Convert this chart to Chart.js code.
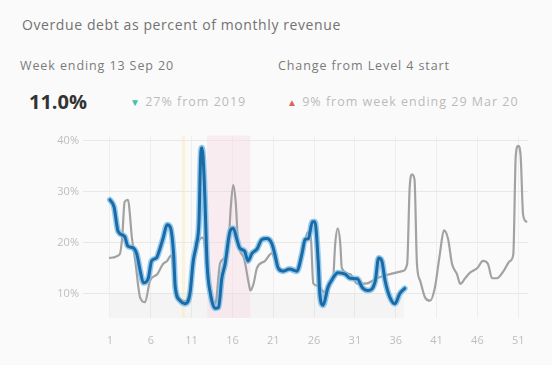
<!DOCTYPE html>
<html>
<head>
<meta charset="utf-8">
<script src="https://cdn.jsdelivr.net/npm/chart.js@4"></script>
<style>
    body { margin: 0; background: #fafafa; font-family: "Open Sans", sans-serif; }
    #page { position: relative; width: 552px; height: 365px; overflow: hidden; }
    .txt { position: absolute; white-space: nowrap; line-height: 1; }
    .sub { font-size: 12.5px; letter-spacing: 0.9px; color: #7a7a7a; }
    .light { font-size: 12.5px; letter-spacing: 1px; color: #bababa; }
    #chart-wrap { position: absolute; left: 0; top: 125px; width: 552px; height: 240px; }
</style>
</head>
<body>
<div id="page">
    <div class="txt" style="left:22px; top:18px; font-size:14px; letter-spacing:0.6px; color:#727272;">Overdue debt as percent of monthly revenue</div>
    <div class="txt sub" style="left:20px; top:60px;">Week ending 13 Sep 20</div>
    <div class="txt sub" style="left:278px; top:60px;">Change from Level 4 start</div>
    <div class="txt" style="left:29px; top:92px; font-size:20px; font-weight:bold; color:#333;">11.0%</div>
    <div class="txt light" style="left:130px; top:96px;"><span style="color:#45c0ac; font-size:10px;">&#9660;</span> 27% from 2019</div>
    <div class="txt light" style="left:287px; top:96px;"><span style="color:#e0605a; font-size:10px;">&#9650;</span> 9% from week ending 29 Mar 20</div>
    <div id="chart-wrap"><canvas id="debt-chart"></canvas></div>
</div>
<script>
// week numbers (fractional = read between weekly ticks) and overdue debt %
const weeks2020 = [1, 1.5, 2, 2.8, 3.2, 3.8, 4.3, 4.7, 5.1, 5.7, 6.1, 6.7, 7.1, 7.5, 8, 8.4, 8.8, 9, 9.6, 10.2, 10.8, 11.2, 11.6, 11.9, 12.1, 12.25, 12.4, 12.6, 12.9, 13.3, 13.9, 14.3, 14.7, 15.1, 15.7, 16.1, 16.6, 16.9, 17.5, 17.9, 18.4, 19, 19.6, 20.2, 20.8, 21.2, 21.6, 22.2, 23, 23.9, 24.5, 24.9, 25.3, 25.8, 26.1, 26.5, 26.7, 27.1, 27.7, 28.3, 28.9, 29.8, 30.4, 31.3, 31.9, 32.6, 33.5, 33.9, 34.3, 34.7, 35.3, 35.9, 36.5, 37.1];
const debt2020 = [28.4, 27, 22.2, 21.2, 19.3, 19, 17.7, 14.5, 12.1, 13, 16.4, 17, 18.7, 20.8, 23.5, 23, 17.7, 11.2, 8.6, 8, 10, 16.4, 19.7, 24, 36.5, 38.6, 37, 30, 15.8, 10, 7.1, 7.3, 13, 15.8, 22.2, 22.8, 20.3, 18.9, 18.3, 16.4, 17.9, 18.7, 20.6, 20.8, 19.9, 17.7, 15, 14.4, 14.8, 14.4, 17.7, 20.6, 20.8, 24.1, 24.1, 16.4, 10, 7.7, 11.2, 13, 14.1, 13.8, 13, 12.9, 11.2, 10.6, 12.5, 17, 16.4, 12.5, 9.2, 8, 10, 11];

const weeks2019 = [1, 2.2, 2.5, 2.8, 3.2, 3.7, 4.1, 4.7, 5.3, 5.9, 6.8, 7.5, 8, 8.5, 9, 9.6, 10.2, 10.8, 11.3, 11.8, 12.4, 12.9, 13.4, 13.9, 14.5, 15.1, 15.5, 15.8, 16.1, 16.4, 16.7, 17.4, 18, 18.2, 18.6, 19, 20, 20.8, 21.5, 22.3, 23.2, 24, 24.6, 25.2, 25.6, 25.9, 26.5, 27.3, 27.8, 28.3, 28.6, 28.9, 29.2, 29.4, 30.4, 31.3, 32.5, 33.7, 35.3, 36.8, 37.4, 37.7, 38, 38.3, 38.6, 39, 39.6, 40.2, 40.8, 41.4, 41.9, 42.4, 42.9, 43.5, 43.9, 44.5, 45.1, 46, 46.7, 47.3, 47.8, 48.4, 49.2, 50, 50.4, 50.7, 51, 51.3, 51.6, 52];
const debt2019 = [17, 17.7, 21, 28, 28.4, 20.8, 16.4, 9.2, 8.3, 12.5, 13.8, 15.8, 16.4, 17.5, 11.5, 8.8, 8.5, 10.5, 17, 20, 21, 15, 9.5, 8, 16, 17, 19, 27, 31.3, 28, 20, 17, 12, 10.6, 12, 15, 16.4, 17.9, 15.5, 14.6, 14.8, 14.6, 18, 22, 21, 12, 11.5, 10.2, 12, 12.5, 20, 22.8, 20, 15, 13.8, 11.9, 12, 13, 13.8, 14.4, 15.8, 30.5, 33.4, 32.4, 15.8, 12.5, 9.2, 8.6, 11.2, 17.7, 22.4, 20.8, 15.8, 13.8, 11.9, 13, 14.1, 15, 16.4, 15.8, 13, 13, 14.4, 16.4, 17.7, 37, 39, 37, 25.5, 24.1];

const weekTicks = [1, 6, 11, 16, 21, 26, 31, 36, 41, 46, 51];
const pctTicks = [10, 20, 30, 40];

// shaded periods in weeks: [from, to, colour]
const periodBands = [
    [9.8, 10.2, 'rgba(255, 226, 150, 0.3)'],
    [12.9, 18.2, 'rgba(248, 214, 224, 0.4)'],
];

function toPoints(xs, ys) {
    return xs.map((x, i) => ({x: x, y: ys[i]}));
}

// draw alert level shading and the grey lower band behind the lines
const bandsPlugin = {
    id: 'bands',
    beforeDatasetsDraw(chart) {
        const {ctx, chartArea, scales} = chart;
        ctx.save();
        // faint grey floor band under 10%
        let x0 = scales.x.getPixelForValue(1);
        let x1 = scales.x.getPixelForValue(37);
        let y0 = scales.y.getPixelForValue(10);
        ctx.fillStyle = 'rgba(0, 0, 0, 0.025)';
        ctx.fillRect(x0, y0, x1 - x0, chartArea.bottom - y0);

        periodBands.forEach(b => {
            let a = scales.x.getPixelForValue(b[0]);
            let z = scales.x.getPixelForValue(b[1]);
            ctx.fillStyle = b[2];
            ctx.fillRect(a, chartArea.top, z - a, chartArea.bottom - chartArea.top);
        });
        ctx.restore();
    }
};

new Chart(document.getElementById('debt-chart'), {
    type: 'line',
    data: {
        datasets: [
            {
                label: '2020',
                data: toPoints(weeks2020, debt2020),
                borderColor: '#1c6aa5',
                borderWidth: 3,
            },
            {
                label: '2020 glow',
                data: toPoints(weeks2020, debt2020),
                borderColor: 'rgba(120, 190, 234, 0.8)',
                borderWidth: 6,
            },
            {
                label: '2019',
                data: toPoints(weeks2019, debt2019),
                borderColor: '#a2a2a2',
                borderWidth: 2.2,
            },
        ]
    },
    options: {
        responsive: true,
        maintainAspectRatio: false,
        animation: false,
        events: [],
        layout: {padding: {top: 8, right: 24, left: 0, bottom: 0}},
        elements: {
            point: {radius: 0},
            line: {cubicInterpolationMode: 'monotone', borderJoinStyle: 'round', borderCapStyle: 'round'}
        },
        plugins: {legend: {display: false}, tooltip: {enabled: false}},
        scales: {
            x: {
                type: 'linear',
                min: -2.3,
                max: 52.2,
                afterBuildTicks: scale => { scale.ticks = weekTicks.map(v => ({value: v})); },
                afterFit: scale => { scale.height = 47; },
                grid: {color: '#eeeeee', drawTicks: false},
                border: {display: false},
                ticks: {
                    padding: 16,
                    color: '#bdbdbd',
                    font: {family: 'Open Sans', size: 11},
                    maxRotation: 0,
                }
            },
            y: {
                min: 5.2,
                max: 41,
                afterBuildTicks: scale => { scale.ticks = pctTicks.map(v => ({value: v})); },
                afterFit: scale => { scale.width = 83; },
                grid: {color: '#e8e8e8', drawTicks: false},
                border: {display: false},
                ticks: {
                    padding: 4,
                    color: '#bdbdbd',
                    font: {family: 'Open Sans', size: 11},
                    callback: v => v + '%',
                }
            }
        }
    },
    plugins: [bandsPlugin]
});
</script>
</body>
</html>
